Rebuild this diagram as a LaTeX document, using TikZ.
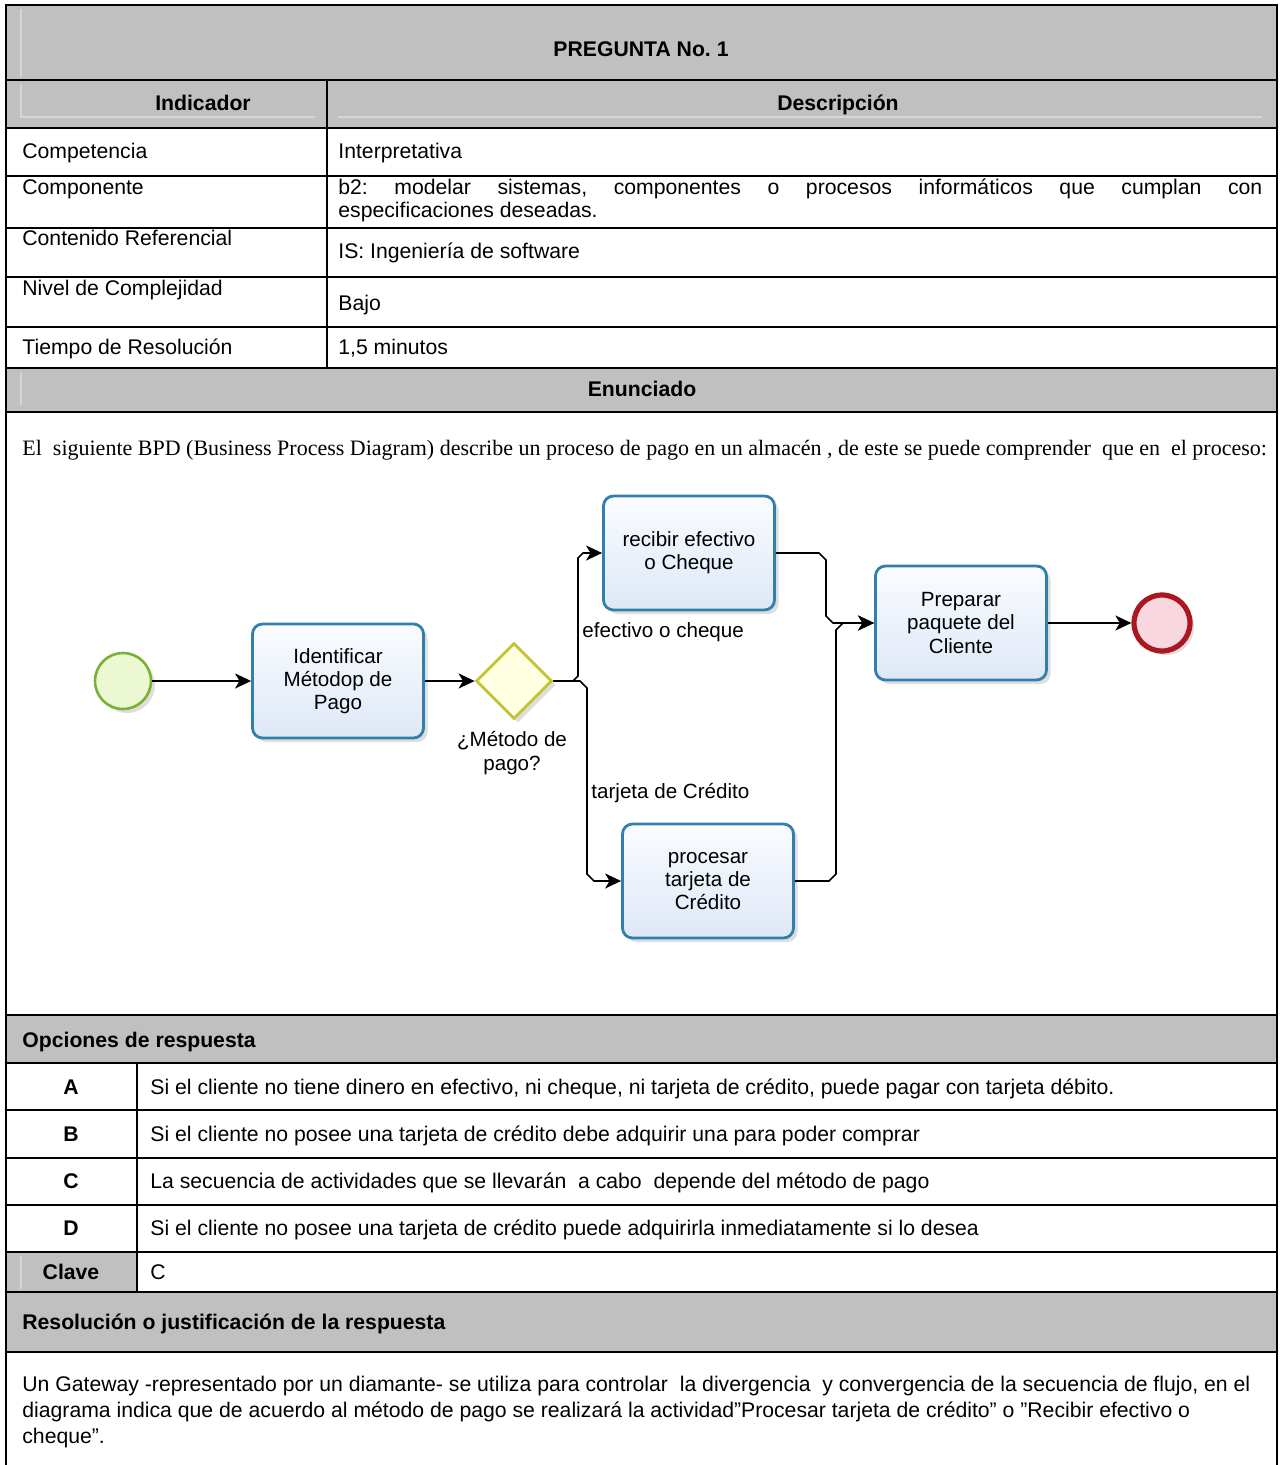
\documentclass[tikz,border=0pt]{standalone}
\usepackage{fontspec}
\setmainfont{Liberation Sans}
\newfontfamily\bodyserif{Liberation Serif}
\usetikzlibrary{shapes.geometric,arrows.meta,shadows}

\definecolor{hdrgray}{RGB}{192,192,192}
\definecolor{hdrlight}{RGB}{214,214,214}
\definecolor{taskline}{RGB}{50,126,172}
\definecolor{taskTop}{RGB}{250,252,255}
\definecolor{taskBot}{RGB}{222,232,246}
\definecolor{gwline}{RGB}{196,196,54}
\definecolor{gwfill}{RGB}{255,255,226}
\definecolor{startline}{RGB}{122,176,52}
\definecolor{startfill}{RGB}{236,248,212}
\definecolor{endline}{RGB}{172,22,32}
\definecolor{endfill}{RGB}{248,216,222}

\newcommand{\tblfont}{\fontsize{10.6}{12.7}\selectfont}
\newcommand{\bpmnfont}{\fontsize{10.3}{11.6}\selectfont}

\tikzset{
  hdr/.style={fill=hdrgray},
  rule/.style={draw=black, line width=1pt},
  faint/.style={draw=hdrlight, line width=0.6pt},
  txt/.style={inner sep=0pt, font=\tblfont},
  bold/.style={inner sep=0pt, font=\tblfont\bfseries},
  serif/.style={inner sep=0pt, font=\bodyserif\fontsize{11}{13}\selectfont},
  soft/.style={drop shadow={shadow xshift=2pt, shadow yshift=-2pt, fill=black, opacity=0.13}},
  task/.style={rectangle, rounded corners=5pt, draw=taskline, line width=1.4pt,
    top color=taskTop, bottom color=taskBot, minimum width=85.5pt,
    minimum height=57pt, inner sep=0pt, align=center, font=\bpmnfont, soft},
  startev/.style={circle, draw=startline, line width=1.3pt, fill=startfill,
    minimum size=28pt, inner sep=0pt, soft},
  endev/.style={circle, draw=endline, line width=2.6pt, fill=endfill,
    minimum size=28pt, inner sep=0pt, soft},
  gateway/.style={diamond, draw=gwline, line width=1.4pt, fill=gwfill,
    minimum width=38pt, minimum height=38pt, inner sep=0pt, soft},
  flow/.style={draw=black, line width=0.85pt,
    -{Stealth[length=8pt,width=7.5pt,inset=2.2pt]}},
  flowlabel/.style={inner sep=0pt, font=\bpmnfont, align=center},
}

\begin{document}
\frenchspacing
\begin{tikzpicture}[x=0.5pt,y=-0.5pt]
\useasboundingbox (0,0) rectangle (1280,1465);
\fill[white] (0,0) rectangle (1280,1465);

% ---------- shaded header cells ----------
\fill[hdr] (6,5) rectangle (1277,128);
\fill[hdr] (6,368) rectangle (1277,412);
\fill[hdr] (6,1015) rectangle (1277,1063);
\fill[hdr] (6,1252) rectangle (137,1292);
\fill[hdr] (6,1292) rectangle (1277,1352);

% light shading seams inside the grey cells
\draw[faint] (21,9) -- (21,77);
\draw[faint] (21,84) -- (21,117) -- (315,117);
\draw[faint] (338,117) -- (1262,117);
\draw[faint] (21,372) -- (21,405);
\draw[faint] (21,1256) -- (21,1289);

% ---------- table rules ----------
\draw[rule] (6,1465) -- (6,5) -- (1277,5) -- (1277,1465);
\foreach \yy in {80,128,176,228,277,327,368,412,1015,1063,1110,1158,1205,1252,1292,1352}
  \draw[rule] (6,\yy) -- (1277,\yy);
\draw[rule] (327,80) -- (327,368);
\draw[rule] (137,1063) -- (137,1292);

% ---------- upper table texts ----------
\node[bold, anchor=base] (pregunta) at (641,57) {PREGUNTA No. 1};
\node[bold, anchor=base] (indicador) at (203,111) {Indicador};
\node[bold, anchor=base] (descripcion) at (838,111) {Descripción};

\node[txt, anchor=base west] (competenciaL) at (22,159) {Competencia};
\node[txt, anchor=base west] (competenciaR) at (338,159) {Interpretativa};

\node[txt, anchor=base west] (componenteL) at (22,195) {Componente};
\node[txt, anchor=base west] (componenteR1) at (338,195)
  {\makebox[462pt][s]{b2: modelar sistemas, componentes o procesos informáticos que cumplan con}};
\node[txt, anchor=base west] (componenteR2) at (338,218) {especificaciones deseadas.};

\node[txt, anchor=base west] (contenidoL) at (22,246) {Contenido Referencial};
\node[txt, anchor=base west] (contenidoR) at (338,259) {IS: Ingeniería de software};

\node[txt, anchor=base west] (nivelL) at (22,296) {Nivel de Complejidad};
\node[txt, anchor=base west] (nivelR) at (338,311) {Bajo};

\node[txt, anchor=base west] (tiempoL) at (22,355) {Tiempo de Resolución};
\node[txt, anchor=base west] (tiempoR) at (338,355) {1,5 minutos};

\node[bold, anchor=base] (enunciado) at (642,396) {Enunciado};

\node[serif, anchor=base west] (intro) at (22,455)
  {El\ \ siguiente BPD (Business Process Diagram) describe un proceso de pago en un almacén , de este se puede comprender\ \ que en\ \ el proceso:};

% ---------- process diagram ----------
\node[startev] (start) at (123,681) {};
\node[task] (identificar) at (338,681) {Identificar\\Métodop de\\Pago};
\node[gateway] (gw) at (514,681) {};
\node[flowlabel] (gwlabel) at (512,753) {¿Método de\\pago?};
\node[task] (recibir) at (689,553) {recibir efectivo\\o Cheque};
\node[task] (procesar) at (708,881) {procesar\\tarjeta de\\Crédito};
\node[task] (preparar) at (961,623) {Preparar\\paquete del\\Cliente};
\node[endev] (fin) at (1162,623) {};

\draw[flow] (start.east) -- (identificar.west);
\draw[flow] (identificar.east) -- (gw.west);
\draw[flow] (gw.east) -- (573,681) -- (578,676) -- (578,558) -- (583,553) -- (recibir.west);
\draw[flow] (gw.east) -- (580,681) -- (587,688) -- (587,874) -- (594,881) -- (procesar.west);
\draw[flow] (recibir.east) -- (819,553) -- (826,560) -- (826,616) -- (833,623) -- (preparar.west);
\draw[flow] (procesar.east) -- (829,881) -- (836,874) -- (836,630) -- (843,623) -- (preparar.west);
\draw[flow] (preparar.east) -- (fin.west);

\node[flowlabel, anchor=west] (lblefectivo) at (582,632) {efectivo o cheque};
\node[flowlabel, anchor=west] (lbltarjeta) at (591,793) {tarjeta de Crédito};

% ---------- answer options ----------
\node[bold, anchor=base west] (opciones) at (22,1047) {Opciones de respuesta};

\node[bold, anchor=base] (optA) at (71,1094) {A};
\node[txt, anchor=base west] (textA) at (150,1094)
  {Si el cliente no tiene dinero en efectivo, ni cheque, ni tarjeta de crédito, puede pagar con tarjeta débito.};
\node[bold, anchor=base] (optB) at (71,1141) {B};
\node[txt, anchor=base west] (textB) at (150,1141)
  {Si el cliente no posee una tarjeta de crédito debe adquirir una para poder comprar};
\node[bold, anchor=base] (optC) at (71,1188) {C};
\node[txt, anchor=base west] (textC) at (150,1188)
  {La secuencia de actividades que se llevarán\ \ a cabo\ \ depende del método de pago};
\node[bold, anchor=base] (optD) at (71,1235) {D};
\node[txt, anchor=base west] (textD) at (150,1235)
  {Si el cliente no posee una tarjeta de crédito puede adquirirla inmediatamente si lo desea};
\node[bold, anchor=base] (clave) at (71,1279) {Clave};
\node[txt, anchor=base west] (claveval) at (150,1279) {C};

\node[bold, anchor=base west] (resolucion) at (22,1329) {Resolución o justificación de la respuesta};

\node[txt, anchor=base west] (res1) at (22,1391)
  {Un Gateway -representado por un diamante- se utiliza para controlar\ \ la divergencia\ \ y convergencia de la secuencia de flujo, en el};
\node[txt, anchor=base west] (res2) at (22,1417)
  {diagrama indica que de acuerdo al método de pago se realizará la actividad”Procesar tarjeta de crédito” o ”Recibir efectivo o};
\node[txt, anchor=base west] (res3) at (22,1443) {cheque”.};

\end{tikzpicture}
\end{document}
